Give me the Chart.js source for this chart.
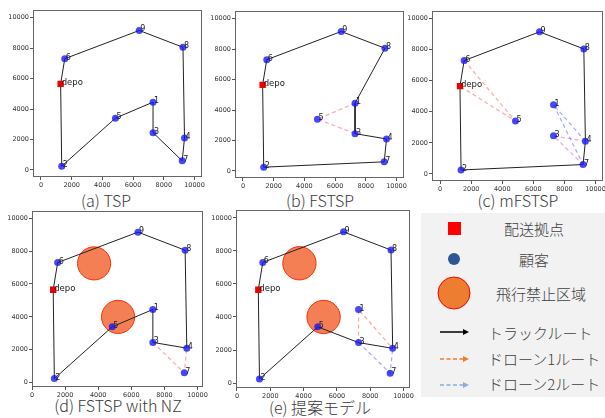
<!DOCTYPE html>
<html>
<head>
<meta charset="utf-8">
<script src="https://cdn.jsdelivr.net/npm/chart.js@4.4.1/dist/chart.umd.min.js"></script>
<style>
  body { margin: 0; width: 605px; height: 418px; position: relative; overflow: hidden; background: #fff;
         font-family: "Noto Sans CJK JP", "Noto Sans", sans-serif; }
  canvas { position: absolute; }
  .cap { position: absolute; font-size: 16px; font-weight: 300; color: #3a3a3a; white-space: nowrap;
         transform: translate(-50%, -50%); }
  #legend { position: absolute; left: 421px; top: 213px; width: 184px; height: 184px; background: #f2f2f2; }
  #legend .t { position: absolute; font-size: 15px; font-weight: 300; color: #404040; white-space: nowrap;
               transform: translateY(-50%); }
  #legend .c { transform: translate(-50%, -50%); }
  #legend svg { position: absolute; left: 0; top: 0; }
</style>
</head>
<body>

<div class="cap" style="left:106px;top:200px">(a) TSP</div>
<div class="cap" style="left:320px;top:200px">(b) FSTSP</div>
<div class="cap" style="left:518px;top:200px">(c) mFSTSP</div>
<div class="cap" style="left:118px;top:405px">(d) FSTSP with NZ</div>
<div class="cap" style="left:320px;top:407px">(e) 提案モデル</div>

<div id="legend">
  <svg width="184" height="184">
    <rect x="27" y="9" width="13" height="13" fill="#ff0000"/>
    <circle cx="33" cy="46" r="6" fill="#2f5597"/>
    <circle cx="33" cy="80" r="16" fill="#ed7d31" stroke="#ff0000" stroke-width="1"/>
    <line x1="19" y1="119" x2="44" y2="119" stroke="#000" stroke-width="1.5"/>
    <polygon points="48,119 42,116 42,122" fill="#000"/>
    <line x1="19" y1="146" x2="43" y2="146" stroke="#ed7d31" stroke-width="1.5" stroke-dasharray="4,2.5"/>
    <polygon points="48,146 42,143 42,149" fill="#ed7d31"/>
    <line x1="19" y1="172" x2="43" y2="172" stroke="#8faadc" stroke-width="1.5" stroke-dasharray="4,2.5"/>
    <polygon points="48,172 42,169 42,175" fill="#8faadc"/>
  </svg>
  <div class="t c" style="left:113px;top:15px">配送拠点</div>
  <div class="t c" style="left:113px;top:46px">顧客</div>
  <div class="t c" style="left:120px;top:80px">飛行禁止区域</div>
  <div class="t" style="left:67px;top:119px">トラックルート</div>
  <div class="t" style="left:67px;top:145px">ドローン1ルート</div>
  <div class="t" style="left:67px;top:170px">ドローン2ルート</div>
</div>

<script>
// customer nodes
const nodeNames = ['1', '2', '3', '4', '5', '6', '7', '8', '9'];
const nodeX = [7300, 1350, 7300, 9350, 4850, 1550, 9200, 9250, 6400];
const nodeY = [4450, 250, 2450, 2100, 3400, 7300, 600, 8050, 9150];

// depot
const depotX = [1280];
const depotY = [5650];

// no-fly zones
const zoneX = [3750, 5200];
const zoneY = [7250, 4000];
const zoneR = [1000, 1000];

const tickValues = [0, 2000, 4000, 6000, 8000, 10000];

// routes ('D' = depot)
const truckA = ['D', '6', '9', '8', '4', '7', '3', '1', '5', '2', 'D'];

const truckB = ['D', '6', '9', '8', '1', '3', '4', '7', '2', 'D'];
const droneB1 = ['1', '5', '3'];

const truckC = ['D', '6', '9', '8', '4', '7', '2', 'D'];
const droneC1 = ['6', '5', 'D'];
const droneC2 = ['4', '1', '7'];
const droneC3 = ['4', '3', '7'];

const truckD = ['D', '6', '9', '8', '4', '3', '1', '5', '2', 'D'];
const droneD1 = ['3', '7', '4'];

const truckE = ['D', '6', '9', '8', '4', '3', '5', '2', 'D'];
const droneE1 = ['3', '1', '4'];
const droneE2 = ['3', '7', '4'];

const RED = 'rgba(255,80,80,0.5)';
const BLUE = 'rgba(80,80,255,0.5)';
const MAGENTA = 'rgba(220,70,200,0.5)';

function pt(name) {
    if (name === 'D') return { x: depotX[0], y: depotY[0] };
    const i = nodeNames.indexOf(name);
    return { x: nodeX[i], y: nodeY[i] };
}

// box = chart area [left, top, right, bottom] in page pixels
const panels = [
    { box: [33, 9, 202, 177], xr: [-520, 10460], yr: [-460, 10500], truck: truckA, drones: [], zones: false },
    { box: [235, 10, 404, 178], xr: [-520, 10460], yr: [-460, 10500], truck: truckB,
      drones: [[droneB1, RED]], zones: false },
    { box: [432, 10, 603, 181], xr: [-520, 10460], yr: [-460, 10500], truck: truckC,
      drones: [[droneC1, RED], [droneC2, BLUE], [droneC3, MAGENTA]], zones: false },
    { box: [32, 210, 205, 387], xr: [0, 10300], yr: [-260, 10440], truck: truckD,
      drones: [[droneD1, RED]], zones: true },
    { box: [236, 209, 411, 388], xr: [-60, 10420], yr: [-300, 10480], truck: truckE,
      drones: [[droneE1, RED], [droneE2, BLUE]], zones: true },
];

const framePlugin = {
    id: 'frame',
    afterDatasetsDraw(chart) {
        const { ctx, chartArea: a, scales } = chart;
        ctx.save();
        // node labels
        ctx.fillStyle = '#222';
        ctx.textAlign = 'left';
        ctx.textBaseline = 'alphabetic';
        ctx.font = '8px "DejaVu Sans"';
        nodeNames.forEach((n, i) => {
            ctx.fillText(n, scales.x.getPixelForValue(nodeX[i]) + 1, scales.y.getPixelForValue(nodeY[i]) + 1);
        });
        ctx.font = '8.5px "DejaVu Sans"';
        ctx.fillText('depo', scales.x.getPixelForValue(depotX[0]) + 1, scales.y.getPixelForValue(depotY[0]) + 1);
        // axes box
        ctx.strokeStyle = '#666';
        ctx.lineWidth = 1;
        ctx.strokeRect(Math.round(a.left) + 0.5, Math.round(a.top) + 0.5,
                       Math.round(a.right - a.left) - 1, Math.round(a.bottom - a.top) - 1);
        ctx.restore();
    }
};

function makePanel(p) {
    const padL = 32, padT = 4, padR = 4, padB = 16;
    const [L, T, R, B] = p.box;
    const cv = document.createElement('canvas');
    cv.width = R - L + padL + padR;
    cv.height = B - T + padT + padB;
    cv.style.left = (L - padL) + 'px';
    cv.style.top = (T - padT) + 'px';
    document.body.appendChild(cv);

    const datasets = [];
    datasets.push({
        data: depotX.map((x, i) => ({ x, y: depotY[i] })),
        pointStyle: 'rect', pointRadius: 4.5, backgroundColor: '#ee0000', borderWidth: 0
    });
    datasets.push({
        data: nodeX.map((x, i) => ({ x, y: nodeY[i] })),
        pointRadius: 3.5, backgroundColor: 'rgba(20,20,250,0.78)', borderWidth: 0
    });
    p.drones.forEach(([route, color]) => {
        datasets.push({
            data: route.map(pt), showLine: true, borderColor: color, borderDash: [4, 3],
            borderWidth: 1.2, pointRadius: 0
        });
    });
    datasets.push({
        data: p.truck.map(pt), showLine: true, borderColor: '#222', borderWidth: 1, pointRadius: 0
    });
    if (p.zones) {
        datasets.push({
            data: zoneX.map((x, i) => ({ x, y: zoneY[i], r: zoneR[i] })),
            pointRadius: ctx => {
                const s = ctx.chart.scales.x;
                const r = ctx.raw ? ctx.raw.r : 0;
                return Math.abs(s.getPixelForValue(r) - s.getPixelForValue(0));
            },
            backgroundColor: 'rgba(243,105,55,0.85)', borderColor: '#ff2a00', borderWidth: 1
        });
    }

    const tickOpts = { font: { family: 'DejaVu Sans', size: 6.5 }, color: '#333', padding: 1,
                       maxRotation: 0, autoSkip: false, callback: v => String(v) };

    new Chart(cv, {
        type: 'scatter',
        data: { datasets },
        options: {
            responsive: false,
            animation: false,
            events: [],
            layout: { padding: { left: 0, top: padT, right: padR, bottom: 0 }, autoPadding: false },
            plugins: { legend: { display: false }, tooltip: { enabled: false } },
            scales: {
                x: {
                    type: 'linear', min: p.xr[0], max: p.xr[1],
                    afterBuildTicks: s => { s.ticks = tickValues.map(v => ({ value: v })); },
                    afterFit: s => { s.height = padB; },
                    grid: { drawOnChartArea: false, tickLength: 3, color: '#555' },
                    border: { display: false },
                    ticks: tickOpts
                },
                y: {
                    type: 'linear', min: p.yr[0], max: p.yr[1],
                    afterBuildTicks: s => { s.ticks = tickValues.map(v => ({ value: v })); },
                    afterFit: s => { s.width = padL; },
                    grid: { drawOnChartArea: false, tickLength: 3, color: '#555' },
                    border: { display: false },
                    ticks: tickOpts
                }
            }
        },
        plugins: [framePlugin]
    });
}

panels.forEach(makePanel);
</script>
</body>
</html>
